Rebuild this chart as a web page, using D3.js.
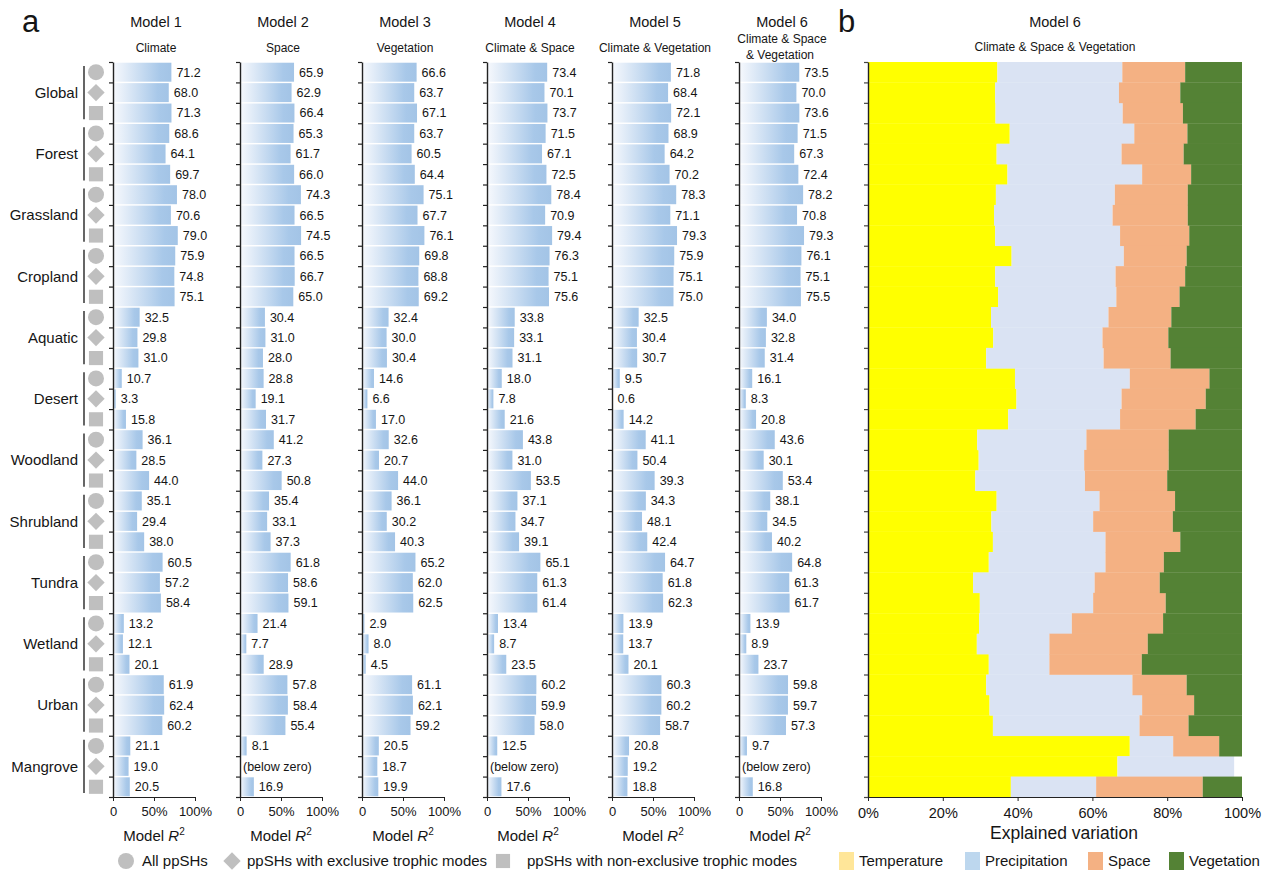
<!DOCTYPE html>
<html>
<head>
<meta charset="utf-8">
<script src="https://cdn.jsdelivr.net/npm/d3@7"></script>
<style>
  body { margin: 0; background: #fff; }
  text { font-family: "Liberation Sans", Arial, sans-serif; fill: #151515; }
</style>
</head>
<body>
<div id="chart"></div>
<script>
// habitats, each with 3 rows: all / exclusive / non-exclusive ppSHs
const habitats = ["Global", "Forest", "Grassland", "Cropland", "Aquatic", "Desert",
  "Woodland", "Shrubland", "Tundra", "Wetland", "Urban", "Mangrove"];
const rowKinds = ["circle", "diamond", "square"];

const modelTitles = ["Model 1", "Model 2", "Model 3", "Model 4", "Model 5", "Model 6"];
const modelSubtitles = [["Climate"], ["Space"], ["Vegetation"], ["Climate & Space"],
  ["Climate & Vegetation"], ["Climate & Space", "& Vegetation"]];

// model R2 (%), null = below zero
const model1 = [71.2, 68.0, 71.3, 68.6, 64.1, 69.7, 78.0, 70.6, 79.0, 75.9, 74.8, 75.1,
  32.5, 29.8, 31.0, 10.7, 3.3, 15.8, 36.1, 28.5, 44.0, 35.1, 29.4, 38.0,
  60.5, 57.2, 58.4, 13.2, 12.1, 20.1, 61.9, 62.4, 60.2, 21.1, 19.0, 20.5];
const model2 = [65.9, 62.9, 66.4, 65.3, 61.7, 66.0, 74.3, 66.5, 74.5, 66.5, 66.7, 65.0,
  30.4, 31.0, 28.0, 28.8, 19.1, 31.7, 41.2, 27.3, 50.8, 35.4, 33.1, 37.3,
  61.8, 58.6, 59.1, 21.4, 7.7, 28.9, 57.8, 58.4, 55.4, 8.1, null, 16.9];
const model3 = [66.6, 63.7, 67.1, 63.7, 60.5, 64.4, 75.1, 67.7, 76.1, 69.8, 68.8, 69.2,
  32.4, 30.0, 30.4, 14.6, 6.6, 17.0, 32.6, 20.7, 44.0, 36.1, 30.2, 40.3,
  65.2, 62.0, 62.5, 2.9, 8.0, 4.5, 61.1, 62.1, 59.2, 20.5, 18.7, 19.9];
const model4 = [73.4, 70.1, 73.7, 71.5, 67.1, 72.5, 78.4, 70.9, 79.4, 76.3, 75.1, 75.6,
  33.8, 33.1, 31.1, 18.0, 7.8, 21.6, 43.8, 31.0, 53.5, 37.1, 34.7, 39.1,
  65.1, 61.3, 61.4, 13.4, 8.7, 23.5, 60.2, 59.9, 58.0, 12.5, null, 17.6];
const model5 = [71.8, 68.4, 72.1, 68.9, 64.2, 70.2, 78.3, 71.1, 79.3, 75.9, 75.1, 75.0,
  32.5, 30.4, 30.7, 9.5, 0.6, 14.2, 41.1, 31.0, 52.0, 41.3, 36.6, 43.0,
  64.7, 61.8, 62.3, 13.9, 13.7, 20.1, 60.3, 60.2, 58.7, 20.8, 19.2, 18.8];
const model6 = [73.5, 70.0, 73.6, 71.5, 67.3, 72.4, 78.2, 70.8, 79.3, 76.1, 75.1, 75.5,
  34.0, 32.8, 31.4, 16.1, 8.3, 20.8, 43.6, 30.1, 53.4, 38.1, 34.5, 40.2,
  64.8, 61.3, 61.7, 13.9, 8.9, 23.7, 59.8, 59.7, 57.3, 9.7, null, 16.8];
const models = [model1, model2, model3, model4, model5, model6];

// Model 5 woodland/shrubland rows carry printed labels that differ from the bar lengths
const model5Rows = [18, 19, 20, 21, 22, 23];
const model5Printed = ["41.1", "50.4", "39.3", "34.3", "48.1", "42.4"];

const r2Ticks = [0, 50, 100];
const r2TickLabels = ["0", "50%", "100%"];

// panel b: share of explained variation (%), Model 6
const temperature = [34.6, 34.0, 34.1, 37.9, 34.4, 37.3, 34.2, 33.7, 34.0, 38.4, 34.0, 34.8,
  32.9, 33.5, 31.6, 39.3, 39.7, 37.5, 29.2, 29.6, 28.7, 34.4, 33.0, 33.4,
  32.3, 28.1, 29.9, 29.7, 29.1, 32.3, 31.6, 32.5, 33.4, 70.0, 66.7, 38.2];
const precipitation = [33.4, 33.1, 34.0, 33.3, 33.4, 36.0, 31.8, 31.7, 33.4, 30.0, 32.2, 31.6,
  31.4, 29.2, 31.4, 30.7, 28.1, 29.9, 29.2, 28.2, 29.3, 27.5, 27.2, 30.1,
  31.2, 32.5, 30.3, 24.8, 19.4, 16.2, 39.1, 40.8, 39.2, 11.6, 31.2, 22.8];
const space = [16.8, 16.4, 16.1, 14.2, 16.6, 13.1, 19.5, 20.1, 18.5, 16.8, 18.6, 16.9,
  16.8, 17.6, 17.9, 21.3, 22.5, 20.2, 22.0, 22.6, 22.0, 20.2, 21.3, 20.0,
  15.6, 17.4, 19.4, 24.4, 26.3, 24.7, 14.5, 13.9, 13.1, 12.3, 0, 28.5];
const vegetation = [15.2, 16.5, 15.8, 14.6, 15.6, 13.6, 14.5, 14.5, 14.1, 14.8, 15.2, 16.7,
  18.9, 19.7, 19.1, 8.7, 9.7, 12.4, 19.6, 19.6, 20.0, 17.9, 18.5, 16.5,
  20.9, 22.0, 20.4, 21.1, 25.2, 26.8, 14.8, 12.8, 14.3, 6.1, 0, 10.5];
const partTicks = [0, 20, 40, 60, 80, 100];

const partKeys = ["temperature", "precipitation", "space", "vegetation"];
const partNames = ["Temperature", "Precipitation", "Space", "Vegetation"];
const partColors = ["#ffff00", "#dae3f3", "#f4b183", "#548235"];
const partLegendColors = ["#ffe699", "#bdd7ee", "#f4b183", "#548235"];

const width = 1267, height = 872;
const plotTop = 62, plotBottom = 797;
const nRows = habitats.length * 3;

const svg = d3.select("#chart").append("svg")
  .attr("width", width).attr("height", height);

const defs = svg.append("defs");
const grad = defs.append("linearGradient").attr("id", "barGrad")
  .attr("x1", 0).attr("x2", 1).attr("y1", 0).attr("y2", 0);
grad.append("stop").attr("offset", 0).attr("stop-color", "#f7f9fd");
grad.append("stop").attr("offset", 0.8).attr("stop-color", "#a8c8e9");
grad.append("stop").attr("offset", 1).attr("stop-color", "#a3c4e6");

const yEdge = d3.scaleLinear().domain([0, nRows]).range([plotTop, plotBottom]);
const yBand = d3.scaleBand().domain(d3.range(nRows)).range([plotTop, plotBottom])
  .paddingInner(0.07).paddingOuter(0.035);

// panel letters
svg.append("text").attr("x", 22).attr("y", 32).attr("font-size", 31).text("a");
svg.append("text").attr("x", 838).attr("y", 32).attr("font-size", 31).text("b");

// ---- row labels, brackets and markers
const labelG = svg.append("g");
habitats.forEach((h, g) => {
  labelG.append("text")
    .attr("x", 78).attr("y", yEdge(g * 3 + 1.5)).attr("dy", "0.35em")
    .attr("text-anchor", "end").attr("font-size", 15).text(h);
  labelG.append("line")
    .attr("x1", 84).attr("x2", 84)
    .attr("y1", yEdge(g * 3) + 4).attr("y2", yEdge(g * 3 + 3) - 4)
    .attr("stroke", "#555").attr("stroke-width", 1.8);
});

const markerPath = {
  circle: d3.symbol(d3.symbolCircle, Math.PI * 64)(),
  diamond: d3.symbol(d3.symbolSquare, 150)(),
  square: d3.symbol(d3.symbolSquare, 200)()
};
d3.range(nRows).forEach(i => {
  const kind = rowKinds[i % 3];
  labelG.append("path")
    .attr("d", markerPath[kind])
    .attr("fill", "#bfbfbf")
    .attr("transform", `translate(96,${yEdge(i + 0.5)})` + (kind === "diamond" ? " rotate(45)" : ""));
});

// ---- panel a: six small bar charts
const axisX = [113, 240, 362, 487, 612, 739];
const axisW = 82;

models.forEach((vals, m) => {
  const x0 = axisX[m];
  const x = d3.scaleLinear().domain([0, 100]).range([x0, x0 + axisW]);
  const g = svg.append("g");

  g.append("text").attr("x", x0 + 43).attr("y", 27)
    .attr("text-anchor", "middle").attr("font-size", 14.5).text(modelTitles[m]);
  const subs = modelSubtitles[m];
  subs.forEach((s, k) => {
    g.append("text")
      .attr("x", x0 + 43 + (k === 1 ? -2 : 0))
      .attr("y", subs.length === 1 ? 52 : 43 + k * 16)
      .attr("text-anchor", "middle").attr("font-size", 12).text(s);
  });

  const rows = vals.map((v, i) => ({ i, v }));

  g.selectAll("rect.bar")
    .data(rows.filter(d => d.v !== null))
    .join("rect")
      .attr("class", "bar")
      .attr("x", x(0))
      .attr("y", d => yBand(d.i))
      .attr("width", d => x(d.v) - x(0))
      .attr("height", yBand.bandwidth())
      .attr("fill", "url(#barGrad)");

  g.selectAll("text.val")
    .data(rows)
    .join("text")
      .attr("class", "val")
      .attr("x", d => d.v === null ? x(0) + 3 : x(d.v) + 5)
      .attr("y", d => yBand(d.i) + yBand.bandwidth() / 2)
      .attr("dy", "0.35em")
      .attr("font-size", 12.5)
      .text(d => {
        if (d.v === null) return "(below zero)";
        const k = m === 4 ? model5Rows.indexOf(d.i) : -1;
        return k >= 0 ? model5Printed[k] : d3.format(".1f")(d.v);
      });

  // left axis with ticks at row boundaries
  g.append("g")
    .attr("transform", `translate(${x0},0)`)
    .call(d3.axisLeft(yEdge).tickValues(d3.range(nRows + 1)).tickFormat("").tickSize(4).tickSizeOuter(0))
    .call(a => a.select(".domain").attr("stroke", "#222").attr("stroke-width", 1.4))
    .call(a => a.selectAll(".tick line").attr("stroke", "#222").attr("stroke-width", 1.2));

  // bottom axis
  const bx = g.append("g")
    .attr("transform", `translate(0,${plotBottom})`)
    .call(d3.axisBottom(x).tickValues(r2Ticks).tickFormat((d, i) => r2TickLabels[i]).tickSize(4).tickSizeOuter(0));
  bx.select(".domain").attr("stroke", "#222").attr("stroke-width", 1.2);
  bx.selectAll(".tick line").attr("stroke", "#222");
  bx.selectAll(".tick text").attr("font-size", 13).attr("font-family", "Liberation Sans, Arial, sans-serif")
    .attr("fill", "#151515").attr("dy", "0.9em");

  const t = g.append("text").attr("x", x0 + 41).attr("y", 841)
    .attr("text-anchor", "middle").attr("font-size", 15);
  t.append("tspan").text("Model ");
  t.append("tspan").attr("font-style", "italic").text("R");
  t.append("tspan").attr("font-size", 10).attr("dy", -6).text("2");
});

// ---- panel b: stacked partition bars
const bx0 = 868, bx1 = 1242;
const xb = d3.scaleLinear().domain([0, 100]).range([bx0, bx1]);
const partRows = d3.range(nRows).map(i => ({
  i,
  temperature: temperature[i],
  precipitation: precipitation[i],
  space: space[i],
  vegetation: vegetation[i]
}));
const stacked = d3.stack().keys(partKeys)(partRows);
const rowH = yEdge(1) - yEdge(0);

const gb = svg.append("g");
gb.append("text").attr("x", (bx0 + bx1) / 2).attr("y", 27)
  .attr("text-anchor", "middle").attr("font-size", 14.5).text("Model 6");
gb.append("text").attr("x", (bx0 + bx1) / 2).attr("y", 51)
  .attr("text-anchor", "middle").attr("font-size", 12).text("Climate & Space & Vegetation");

gb.selectAll("g.layer")
  .data(stacked)
  .join("g")
    .attr("class", "layer")
    .attr("fill", (d, k) => partColors[k])
  .selectAll("rect")
  .data(d => d)
  .join("rect")
    .attr("x", d => xb(d[0]))
    .attr("y", d => yEdge(d.data.i))
    .attr("width", d => Math.max(0, xb(d[1]) - xb(d[0])))
    .attr("height", rowH + 0.3);

gb.append("g")
  .attr("transform", `translate(${bx0},0)`)
  .call(d3.axisLeft(yEdge).tickValues(d3.range(nRows + 1)).tickFormat("").tickSize(4).tickSizeOuter(0))
  .call(a => a.select(".domain").attr("stroke", "#222").attr("stroke-width", 1.4))
  .call(a => a.selectAll(".tick line").attr("stroke", "#444").attr("stroke-width", 1.2));

const bAxis = gb.append("g")
  .attr("transform", `translate(0,${plotBottom})`)
  .call(d3.axisBottom(xb).tickValues(partTicks).tickFormat(d => d + "%").tickSize(4).tickSizeOuter(0));
bAxis.select(".domain").attr("stroke", "#222").attr("stroke-width", 1.2);
bAxis.selectAll(".tick line").attr("stroke", "#222");
bAxis.selectAll(".tick text").attr("font-size", 14.5).attr("font-family", "Liberation Sans, Arial, sans-serif")
  .attr("fill", "#151515").attr("dy", "0.95em");

gb.append("text").attr("x", (bx0 + bx1) / 2 + 9).attr("y", 839)
  .attr("text-anchor", "middle").attr("font-size", 17.5).text("Explained variation");

// ---- legends
const legA = svg.append("g");
const legItems = [
  { kind: "circle", mx: 126, tx: 142, label: "All ppSHs" },
  { kind: "diamond", mx: 232, tx: 247, label: "ppSHs with exclusive trophic modes" },
  { kind: "square", mx: 503, tx: 527, label: "ppSHs with non-exclusive trophic modes" }
];
legItems.forEach(d => {
  legA.append("path").attr("d", markerPath[d.kind]).attr("fill", "#bfbfbf")
    .attr("transform", `translate(${d.mx},861)` + (d.kind === "diamond" ? " rotate(45)" : ""));
  legA.append("text").attr("x", d.tx).attr("y", 861).attr("dy", "0.35em")
    .attr("font-size", 15).text(d.label);
});

const legB = svg.append("g");
const swX = [839, 965, 1088, 1169];
partNames.forEach((n, k) => {
  legB.append("rect").attr("x", swX[k]).attr("y", 852).attr("width", 15).attr("height", 18)
    .attr("fill", partLegendColors[k]);
  legB.append("text").attr("x", swX[k] + 20).attr("y", 861).attr("dy", "0.35em")
    .attr("font-size", 15).text(n);
});
</script>
</body>
</html>
